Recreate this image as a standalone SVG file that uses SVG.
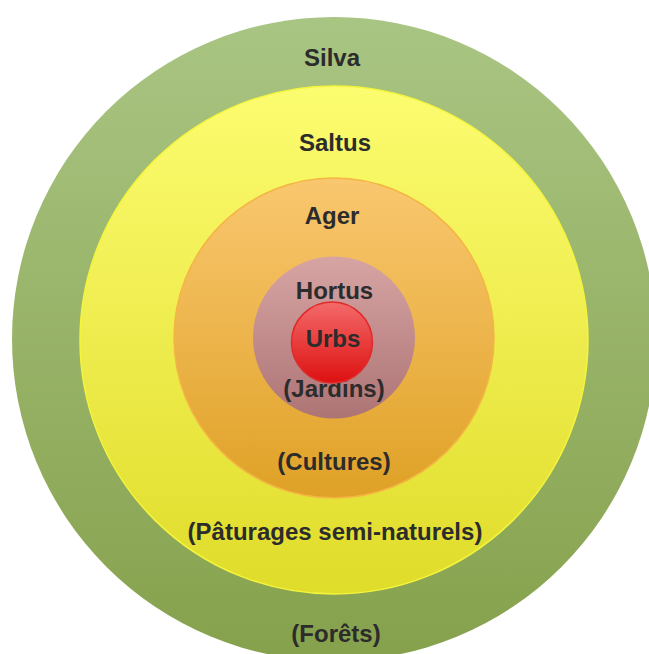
<svg xmlns="http://www.w3.org/2000/svg" width="649" height="654" viewBox="0 0 649 654">
  <defs>
    <linearGradient id="gGreen" x1="0" y1="0" x2="0" y2="1">
      <stop offset="0" stop-color="#a9c583"/>
      <stop offset="1" stop-color="#86a14c"/>
    </linearGradient>
    <linearGradient id="gYellow" x1="0" y1="0" x2="0" y2="1">
      <stop offset="0" stop-color="#fcfc70"/>
      <stop offset="1" stop-color="#e0dc2a"/>
    </linearGradient>
    <linearGradient id="gOrange" x1="0" y1="0" x2="0" y2="1">
      <stop offset="0" stop-color="#f9c76f"/>
      <stop offset="1" stop-color="#dfa126"/>
    </linearGradient>
    <linearGradient id="gPink" x1="0" y1="0" x2="0" y2="1">
      <stop offset="0" stop-color="#d7a4a4"/>
      <stop offset="1" stop-color="#ad7474"/>
    </linearGradient>
    <linearGradient id="gRed" x1="0" y1="0" x2="0" y2="1">
      <stop offset="0" stop-color="#f46a6a"/>
      <stop offset="1" stop-color="#dd1010"/>
    </linearGradient>
  </defs>
  <style>
    text { font-family: "Liberation Sans", Arial, sans-serif; font-weight: bold; font-size: 24px; fill: #2c2c2c; text-anchor: middle; }
  </style>
  <rect width="649" height="654" fill="#ffffff"/>
  <g id="silva">
    <circle cx="334" cy="339" r="322" fill="url(#gGreen)"/>
    <text x="332" y="66">Silva</text>
    <text x="336" y="642">(Forêts)</text>
  </g>
  <g id="saltus">
    <circle cx="334" cy="340" r="254" fill="url(#gYellow)" stroke="#f4f43c" stroke-width="1.5"/>
    <text x="335" y="151">Saltus</text>
    <text x="335" y="540">(Pâturages semi-naturels)</text>
  </g>
  <g id="ager">
    <circle cx="334" cy="338" r="160" fill="url(#gOrange)" stroke="#f4b544" stroke-width="1.5"/>
    <text x="332" y="224">Ager</text>
    <text x="334" y="470">(Cultures)</text>
  </g>
  <g id="hortus">
    <circle cx="334" cy="337.5" r="81" fill="url(#gPink)"/>
    <text x="334.5" y="299">Hortus</text>
    <text x="334" y="397">(Jardins)</text>
  </g>
  <g id="urbs">
    <circle cx="332" cy="342.5" r="40.5" fill="url(#gRed)" stroke="#e02a2a" stroke-width="1.5"/>
    <text x="333" y="347">Urbs</text>
  </g>
  <g id="connectors"/>
</svg>
